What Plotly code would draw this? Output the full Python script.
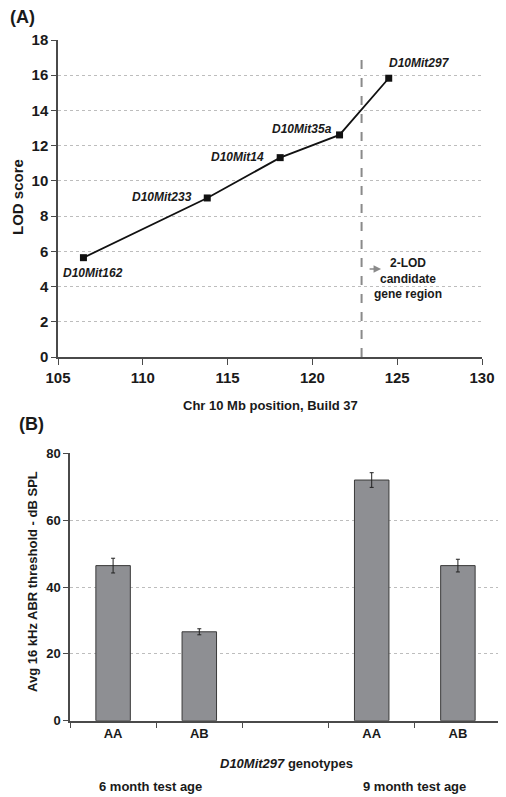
import plotly.graph_objects as go

# ---------------- Data ----------------
# Panel A: LOD scores for markers along Chr 10
markers = ["D10Mit162", "D10Mit233", "D10Mit14", "D10Mit35a", "D10Mit297"]
positions_mb = [106.5, 113.8, 118.1, 121.6, 124.5]
lod_scores = [5.64, 9.03, 11.32, 12.61, 15.83]
lod2_boundary_mb = 122.9
lod_ticks = [0, 2, 4, 6, 8, 10, 12, 14, 16, 18]
mb_ticks = [105, 110, 115, 120, 125, 130]

# Panel B: ABR thresholds by genotype and test age
slot_labels = ["AA", "AB", "", "AA", "AB"]
bar_genotypes = ["AA", "AB", "AA", "AB"]
bar_ages = ["6 month test age", "6 month test age", "9 month test age", "9 month test age"]
abr_mean = [46.4, 26.6, 72.0, 46.4]
abr_err = [2.2, 0.9, 2.2, 1.9]
abr_ticks = [0, 20, 40, 60, 80]

# ---------------- Layout helpers ----------------
OFF = 8  # page body margin in the browser
W, H = 506 - OFF, 797 - OFF
FONT = "Liberation Sans, Arial, sans-serif"
TXT = "#1a1a1a"
AXC = "#4a4a4a"
GRID = "#bdbdbd"


def py(px):
    return 1 - (px - OFF) / H


def pxx(px):
    return (px - OFF) / W


# assign slots in order, inserting one blank slot between age groups
bar_slots = []
age_order = []
cur = 0
prev_age = None
for g, a in zip(bar_genotypes, bar_ages):
    if prev_age is not None and a != prev_age:
        cur += 1
    bar_slots.append(cur)
    cur += 1
    prev_age = a
    if a not in age_order:
        age_order.append(a)
n_slots = len(slot_labels)

fig = go.Figure()

# Panel A line
fig.add_trace(go.Scatter(
    x=positions_mb, y=lod_scores, mode="lines+markers",
    line=dict(color="#111111", width=1.8),
    marker=dict(symbol="square", size=7, color="#111111"),
    xaxis="x", yaxis="y", showlegend=False, hoverinfo="skip",
))

# Panel B bars
fig.add_trace(go.Bar(
    x=bar_slots, y=abr_mean, width=0.4,
    marker=dict(color="#8e8f93", line=dict(color="#3a3a3a", width=1)),
    error_y=dict(type="data", array=abr_err, visible=True, color="#222222",
                 thickness=1, width=2),
    xaxis="x2", yaxis="y2", showlegend=False, hoverinfo="skip",
))

axis_font = dict(family=FONT, size=15, color=TXT)
axis_font_b = dict(family=FONT, size=13, color=TXT)

fig.update_layout(
    template="none",
    width=W, height=H,
    margin=dict(l=0, r=0, t=0, b=0, pad=0),
    paper_bgcolor="white", plot_bgcolor="white",
    font=dict(family=FONT, color=TXT),
    xaxis=dict(
        domain=[pxx(58), pxx(482)], anchor="y", automargin=False,
        range=[105, 130], tickvals=mb_ticks,
        ticktext=[f"<b>{v}</b>" for v in mb_ticks],
        tickfont=axis_font, ticks="outside", ticklen=6, tickcolor=AXC,
        showline=True, linecolor=AXC, linewidth=1.5,
        showgrid=False, zeroline=False,
    ),
    yaxis=dict(
        domain=[py(357), py(40)], anchor="x", automargin=False,
        range=[0, 18], tickvals=lod_ticks,
        ticktext=[f"<b>{v}</b>" for v in lod_ticks],
        tickfont=axis_font, ticks="outside", ticklen=5, tickcolor=AXC,
        showline=True, linecolor=AXC, linewidth=1.5,
        showgrid=True, gridcolor=GRID, griddash="dot", gridwidth=1,
        zeroline=False,
    ),
    xaxis2=dict(
        domain=[pxx(70), pxx(501)], anchor="y2", automargin=False,
        range=[-0.5, n_slots - 0.5],
        tickvals=list(range(n_slots)),
        ticktext=[f"<b>{s}</b>" for s in slot_labels],
        tickfont=axis_font_b, ticks="", ticklen=0,
        minor=dict(tickvals=[i - 0.5 for i in range(n_slots + 1)],
                   ticks="outside", ticklen=6, tickcolor=AXC, showgrid=False),
        showline=True, linecolor=AXC, linewidth=1.5,
        showgrid=False, zeroline=False,
    ),
    yaxis2=dict(
        domain=[py(720.7), py(453.3)], anchor="x2", automargin=False,
        range=[0, 80], tickvals=abr_ticks,
        ticktext=[f"<b>{v}</b>" for v in abr_ticks],
        tickfont=axis_font_b, ticks="outside", ticklen=5, tickcolor=AXC,
        showline=True, linecolor=AXC, linewidth=1.5,
        showgrid=True, gridcolor=GRID, griddash="dot", gridwidth=1,
        zeroline=False,
    ),
    bargap=0.6,
)

# Dashed 2-LOD boundary line
fig.add_shape(type="line", xref="x", yref="y",
              x0=lod2_boundary_mb, x1=lod2_boundary_mb, y0=0, y1=17.15,
              line=dict(color="#8a8a8a", width=2, dash="dash"))

ann = []
# Marker labels (offsets relative to each point)
label_style = {
    "D10Mit162": dict(xanchor="center", xshift=10, yshift=-15),
    "D10Mit233": dict(xanchor="right", xshift=-13, yshift=1),
    "D10Mit14": dict(xanchor="right", xshift=-14, yshift=1),
    "D10Mit35a": dict(xanchor="right", xshift=-6, yshift=6),
    "D10Mit297": dict(xanchor="left", xshift=-2, yshift=15),
}
for m, x, y in zip(markers, positions_mb, lod_scores):
    st = label_style[m]
    ann.append(dict(x=x, y=y, xref="x", yref="y", text=f"<b><i>{m}</i></b>",
                    showarrow=False, yanchor="middle",
                    font=dict(family=FONT, size=12, color=TXT), **st))

# Small arrow and region text
ann.append(dict(x=124.05, y=5.0, xref="x", yref="y", ax=-13, ay=0,
                text="", showarrow=True, arrowhead=2, arrowsize=1,
                arrowwidth=1.5, arrowcolor="#8a8a8a"))
ann.append(dict(x=125.65, y=4.43, xref="x", yref="y",
                text="<b>2-LOD<br>candidate<br>gene region</b>",
                showarrow=False, align="center", xanchor="center", yanchor="middle",
                font=dict(family=FONT, size=12, color=TXT)))

# Panel labels and axis titles
ann += [
    dict(x=pxx(8), y=py(17), xref="paper", yref="paper", text="<b>(A)</b>",
         showarrow=False, xanchor="left", yanchor="middle",
         font=dict(family=FONT, size=18, color=TXT)),
    dict(x=pxx(17), y=py(424), xref="paper", yref="paper", text="<b>(B)</b>",
         showarrow=False, xanchor="left", yanchor="middle",
         font=dict(family=FONT, size=18, color=TXT)),
    dict(x=pxx(270), y=py(405), xref="paper", yref="paper",
         text="<b>Chr 10 Mb position, Build 37</b>", showarrow=False,
         xanchor="center", yanchor="middle",
         font=dict(family=FONT, size=13, color=TXT)),
    dict(x=pxx(18), y=py(197), xref="paper", yref="paper",
         text="<b>LOD score</b>", showarrow=False, textangle=-90,
         xanchor="center", yanchor="middle",
         font=dict(family=FONT, size=15, color=TXT)),
    dict(x=pxx(32), y=py(582), xref="paper", yref="paper",
         text="<b>Avg 16 kHz ABR threshold - dB SPL</b>", showarrow=False,
         textangle=-90, xanchor="center", yanchor="middle",
         font=dict(family=FONT, size=13, color=TXT)),
    dict(x=pxx(286), y=py(763), xref="paper", yref="paper",
         text="<b><i>D10Mit297</i> genotypes</b>", showarrow=False,
         xanchor="center", yanchor="middle",
         font=dict(family=FONT, size=13, color=TXT)),
]

# Age group labels under each group centre
for age in age_order:
    s = [sl for sl, a in zip(bar_slots, bar_ages) if a == age]
    cx = sum(s) / len(s)
    ann.append(dict(x=cx, y=py(786), xref="x2", yref="paper",
                    text=f"<b>{age}</b>", showarrow=False,
                    xanchor="center", yanchor="middle",
                    xshift=-6 if cx < 2 else 0,
                    font=dict(family=FONT, size=13, color=TXT)))

fig.update_layout(annotations=ann)

fig.write_html("out.html")
